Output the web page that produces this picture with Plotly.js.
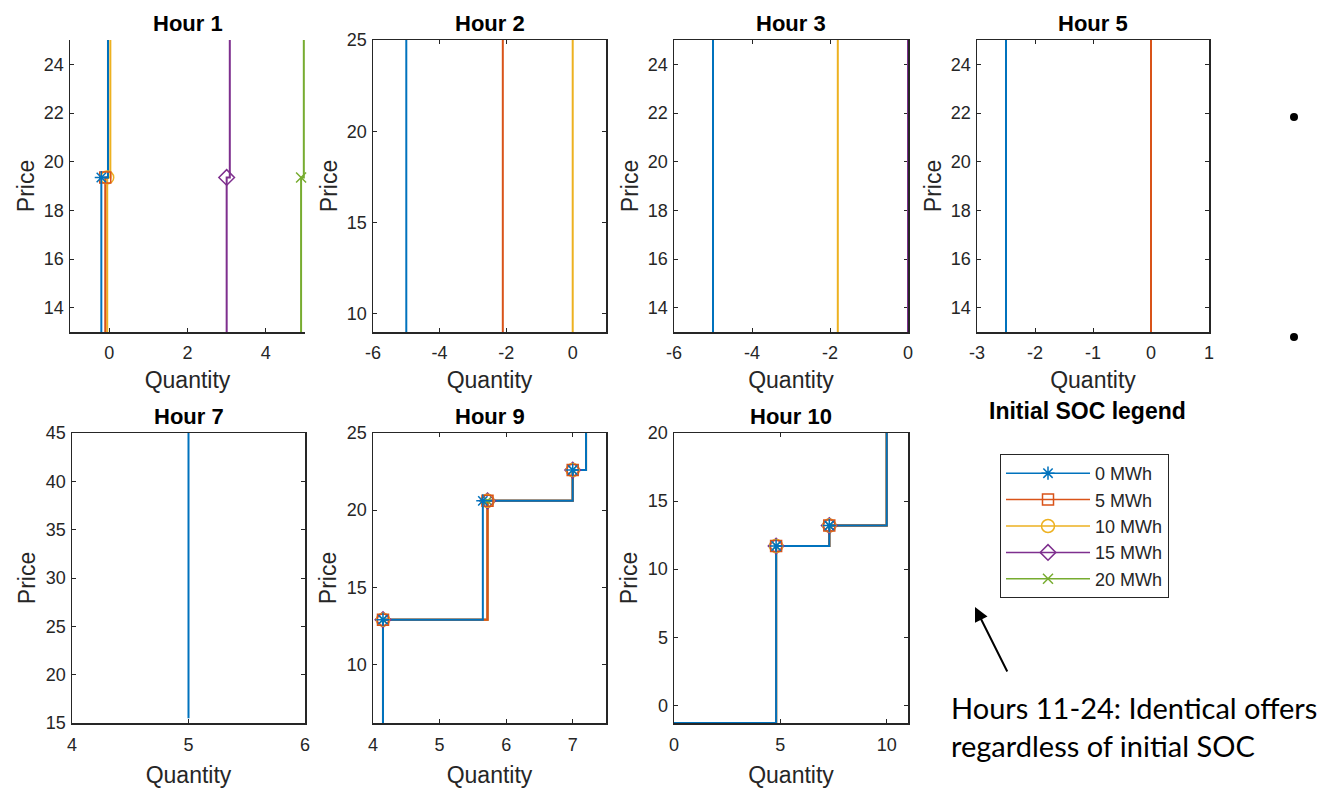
<!DOCTYPE html>
<html>
<head>
<meta charset="utf-8">
<script src="https://cdn.plot.ly/plotly-3.0.1.min.js"></script>
<style>
  html, body { margin: 0; padding: 0; background: #fff; }
  #chart { width: 1327px; height: 788px; }
</style>
</head>
<body>
<div id="chart"></div>
<script>
// ---------- DATA ----------
const seriesNames = ['0 MWh', '5 MWh', '10 MWh', '15 MWh', '20 MWh'];
const hourTitles = ['Hour 1', 'Hour 2', 'Hour 3', 'Hour 5', 'Hour 7', 'Hour 9', 'Hour 10'];

// Offer curves per initial SOC (index 0..4 = 0,5,10,15,20 MWh); null = not shown
const hour1Quantity = [[-0.2, -0.2, -0.03], [-0.1, -0.1, -0.03], [-0.05, -0.05, 0.03], [3.0, 3.0, 3.08], [4.9, 4.9, 4.97]];
const hour1Price    = [[13, 19.35, 25], [13, 19.35, 25], [13, 19.35, 25], [13, 19.35, 25], [13, 19.35, 25]];

const hour2Quantity = [[-5, -5], [-2.1, -2.1], [0, 0], null, null];
const hour2Price    = [[9, 25], [9, 25], [9, 25], null, null];

const hour3Quantity = [[-5, -5], null, [-1.8, -1.8], [0, 0], null];
const hour3Price    = [[13, 25], null, [13, 25], [13, 25], null];

const hour5Quantity = [[-2.5, -2.5], [0, 0], null, null, null];
const hour5Price    = [[13, 25], [13, 25], null, null, null];

const hour7Quantity = [[5, 5], null, null, null, null];
const hour7Price    = [[15.5, 45], null, null, null, null];

const hour9Quantity = [[4.15, 4.15, 5.65, 7.0, 7.2], [4.15, 4.15, 5.72, 7.0, 7.2], [4.15, 4.15, 5.72, 7.0, 7.2], [4.15, 4.15, 5.72, 7.0, 7.2], [4.15, 4.15, 5.72, 7.0, 7.2]];
const hour9Price    = [[6.2, 12.9, 20.6, 22.6, 25], [6.2, 12.9, 20.6, 22.6, 25], [6.2, 12.9, 20.6, 22.6, 25], [6.2, 12.9, 20.6, 22.6, 25], [6.2, 12.9, 20.6, 22.6, 25]];

const hour10Quantity = [[0, 4.8, 7.3, 10], [0, 4.8, 7.3, 10], [0, 4.8, 7.3, 10], [0, 4.8, 7.3, 10], [0, 4.8, 7.3, 10]];
const hour10Price    = [[-1.3, 11.7, 13.2, 20], [-1.3, 11.7, 13.2, 20], [-1.3, 11.7, 13.2, 20], [-1.3, 11.7, 13.2, 20], [-1.3, 11.7, 13.2, 20]];

// axis ranges and ticks
const xRanges = [[-1, 5], [-6, 1], [-6, 0], [-3, 1], [4, 6], [4, 7.5], [0, 11]];
const yRanges = [[13, 25], [9, 25], [13, 25], [13, 25], [15, 45], [6.2, 25], [-1.3, 20]];
const xTicks = [[0, 2, 4], [-6, -4, -2, 0], [-6, -4, -2, 0], [-3, -2, -1, 0, 1], [4, 5, 6], [4, 5, 6, 7], [0, 5, 10]];
const yTicks = [[14, 16, 18, 20, 22, 24], [10, 15, 20, 25], [14, 16, 18, 20, 22, 24], [14, 16, 18, 20, 22, 24], [15, 20, 25, 30, 35, 40, 45], [10, 15, 20, 25], [0, 5, 10, 15, 20]];
const boxed = [false, true, true, true, true, true, true];

const annotationText = 'Hours 11-24: Identical offers<br>regardless of initial SOC';

// ---------- STYLE ----------
const colors = ['#0072BD', '#D95319', '#EDB120', '#7E2F8E', '#77AC30'];
const symbols = ['asterisk-open', 'square-open', 'circle-open', 'diamond-open', 'x-thin-open'];
const markerSizes = [11, 11, 13, 12, 10];
const W = 1327, H = 788;
// pixel boxes of the plot areas [left, right, top, bottom]
const boxes = [
  [70, 305, 40, 332], [373, 606, 40, 332], [674, 908, 40, 332], [977, 1209, 40, 332],
  [72, 305, 433, 723], [373, 606, 433, 723], [674, 908, 433, 723]
];
const FONT = 'Liberation Sans, Arial, Helvetica, sans-serif';
const AX = '#262626';

const hoursQ = [hour1Quantity, hour2Quantity, hour3Quantity, hour5Quantity, hour7Quantity, hour9Quantity, hour10Quantity];
const hoursP = [hour1Price, hour2Price, hour3Price, hour5Price, hour7Price, hour9Price, hour10Price];

const traces = [];
hoursQ.forEach((qs, h) => {
  const xa = h === 0 ? 'x' : 'x' + (h + 1);
  const ya = h === 0 ? 'y' : 'y' + (h + 1);
  // draw highest SOC first so 0 MWh ends on top
  for (let s = 4; s >= 0; s--) {
    const q = qs[s], p = hoursP[h][s];
    if (!q) continue;
    traces.push({
      x: q, y: p, xaxis: xa, yaxis: ya, type: 'scatter', mode: 'lines',
      line: { color: colors[s], width: 2, shape: 'hv' },
      showlegend: false, hoverinfo: 'skip'
    });
  }
  for (let s = 4; s >= 0; s--) {
    const q = qs[s], p = hoursP[h][s];
    if (!q || q.length < 3) continue;
    traces.push({
      x: q.slice(1, -1), y: p.slice(1, -1), xaxis: xa, yaxis: ya, type: 'scatter', mode: 'markers',
      marker: { symbol: symbols[s], size: markerSizes[s], color: colors[s], line: { color: colors[s], width: 1.5 } },
      showlegend: false, hoverinfo: 'skip', cliponaxis: false
    });
  }
});
// legend entries
seriesNames.forEach((name, s) => {
  traces.push({
    x: [null], y: [null], xaxis: 'x', yaxis: 'y', type: 'scatter', mode: 'lines+markers', name: name,
    line: { color: colors[s], width: 1.5 },
    marker: { symbol: symbols[s], size: markerSizes[s], color: colors[s], line: { color: colors[s], width: 1.5 } },
    showlegend: true
  });
});

const layout = {
  width: W, height: H,
  margin: { l: 0, r: 0, t: 0, b: 0 },
  paper_bgcolor: '#fff', plot_bgcolor: '#fff',
  font: { family: FONT, color: AX },
  showlegend: true,
  legend: {
    x: 1000 / W, y: 1 - 454 / H, xanchor: 'left', yanchor: 'top',
    bordercolor: AX, borderwidth: 1, bgcolor: '#fff',
    font: { family: FONT, size: 18, color: AX },
    itemwidth: 84, tracegroupgap: 0
  },
  annotations: [], shapes: []
};

boxes.forEach((b, h) => {
  const xk = h === 0 ? 'xaxis' : 'xaxis' + (h + 1);
  const yk = h === 0 ? 'yaxis' : 'yaxis' + (h + 1);
  const xa = h === 0 ? 'x' : 'x' + (h + 1);
  const ya = h === 0 ? 'y' : 'y' + (h + 1);
  const row2 = h >= 4;
  const common = {
    showline: true, linecolor: AX, linewidth: 1.5, mirror: boxed[h] ? 'allticks' : false,
    ticks: 'inside', ticklen: 4, tickwidth: 1, tickcolor: AX, layer: 'below traces',
    showgrid: false, zeroline: false, fixedrange: true,
    tickfont: { family: FONT, size: 18, color: AX }
  };
  layout[xk] = Object.assign({}, common, {
    domain: [b[0] / W, b[1] / W], anchor: ya, range: xRanges[h],
    tickmode: 'array', tickvals: xTicks[h], ticktext: xTicks[h].map(v => String(v)),
    ticklabelstandoff: row2 ? 5 : 4,
    title: { text: 'Quantity', font: { family: FONT, size: 23, color: AX }, standoff: row2 ? 13 : 10 }
  });
  layout[yk] = Object.assign({}, common, {
    domain: [1 - b[3] / H, 1 - b[2] / H], anchor: xa, range: yRanges[h],
    tickmode: 'array', tickvals: yTicks[h], ticktext: yTicks[h].map(v => String(v)),
    ticklabelstandoff: 1,
    title: { text: 'Price', font: { family: FONT, size: 23, color: AX }, standoff: row2 ? 4 : 3 }
  });
  layout.annotations.push({
    text: hourTitles[h], xref: xa + ' domain', yref: ya + ' domain', x: 0.5, y: 1, yshift: 2,
    xanchor: 'center', yanchor: 'bottom', showarrow: false,
    font: { family: FONT, size: 22, color: '#000', weight: 'bold' }
  });
});

// legend axes title
layout.annotations.push({
  text: 'Initial SOC legend', xref: 'paper', yref: 'paper', x: 1087 / W, y: 1 - 411 / H,
  xanchor: 'center', yanchor: 'middle', showarrow: false,
  font: { family: FONT, size: 23, color: '#000', weight: 'bold' }
});
// note text
layout.annotations.push({
  text: annotationText, xref: 'paper', yref: 'paper', x: 949 / W, y: 1 - 688 / H,
  xanchor: 'left', yanchor: 'top', align: 'left', showarrow: false,
  font: { family: 'Lato, Open Sans, sans-serif', size: 29, color: '#000' }
});
// arrow
layout.annotations.push({
  text: '', xref: 'paper', yref: 'paper', x: 975 / W, y: 1 - 607 / H,
  ax: 33, ay: 66, axref: 'pixel', ayref: 'pixel',
  showarrow: true, arrowhead: 2, arrowsize: 1.4, arrowwidth: 2, arrowcolor: '#000'
});
// bullets
[117, 337].forEach(cy => {
  layout.shapes.push({
    type: 'circle', xref: 'paper', yref: 'paper',
    x0: 1290 / W, x1: 1298 / W, y0: 1 - (cy + 4) / H, y1: 1 - (cy - 4) / H,
    fillcolor: '#000', line: { width: 0 }
  });
});

Plotly.newPlot('chart', traces, layout, { staticPlot: true, displayModeBar: false });
</script>
</body>
</html>
